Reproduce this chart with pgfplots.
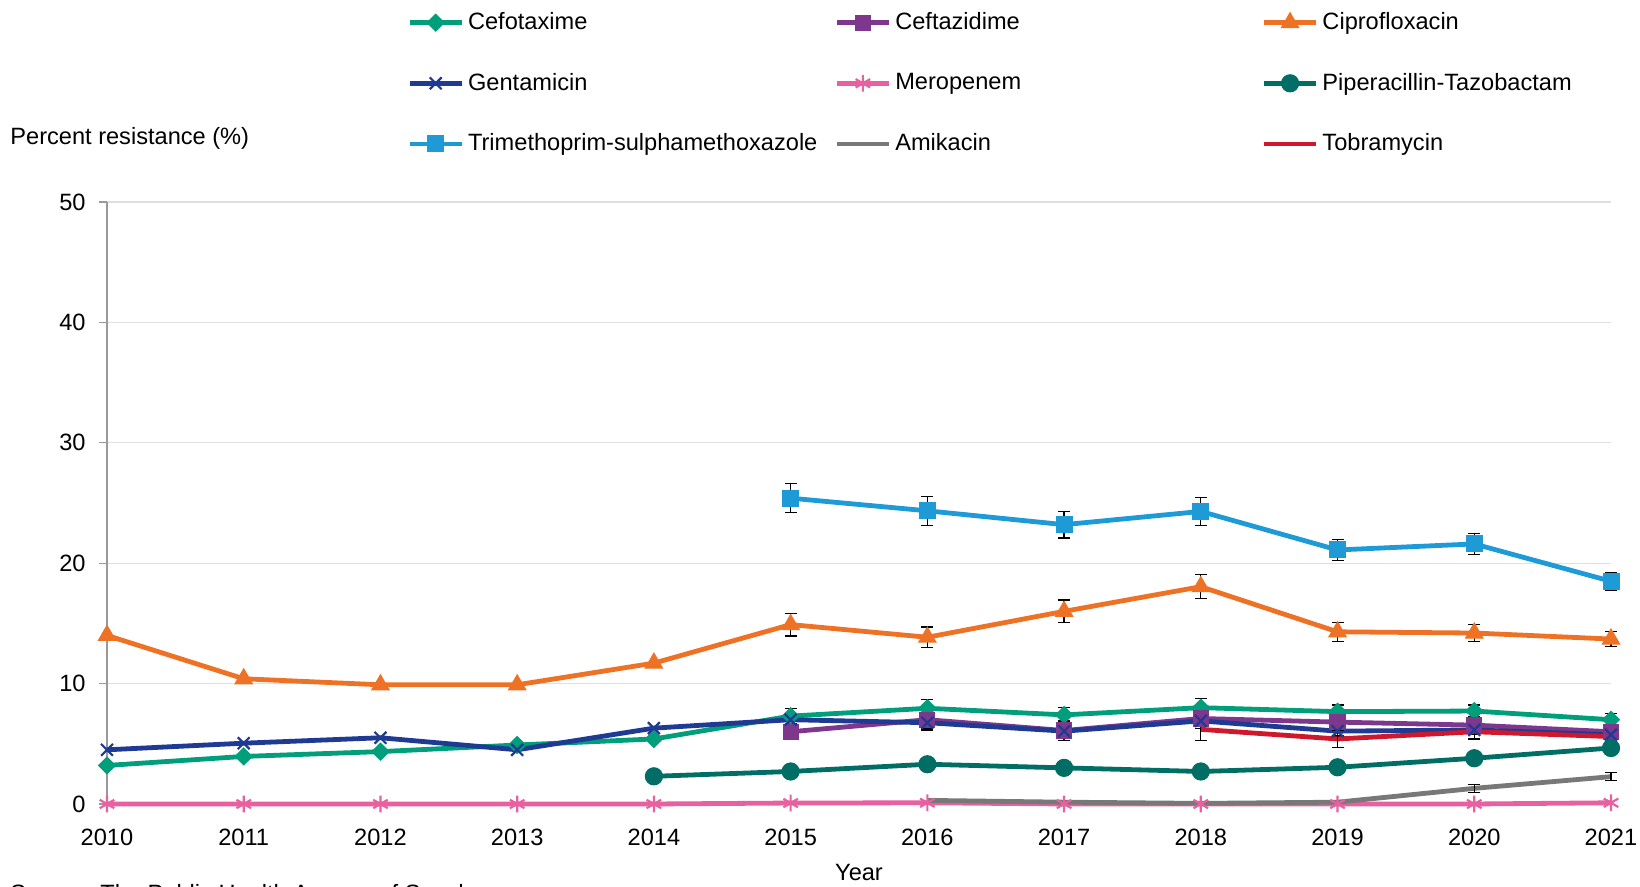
\documentclass[border=0pt]{standalone}
\usepackage{fontspec}
\setmainfont{Liberation Sans}
\usepackage{pgfplots}
\pgfplotsset{compat=1.18}
\definecolor{cefo}{RGB}{0,158,122}
\definecolor{ceft}{RGB}{125,55,140}
\definecolor{cipr}{RGB}{238,114,38}
\definecolor{gent}{RGB}{31,58,147}
\definecolor{mero}{RGB}{232,96,160}
\definecolor{pipt}{RGB}{0,110,100}
\definecolor{tmps}{RGB}{30,155,215}
\definecolor{amik}{RGB}{120,120,120}
\definecolor{tobr}{RGB}{208,24,44}
\pgfplotsset{
  ebar/.style={forget plot, draw=none, mark=none,
    error bars/.cd, y dir=both, y explicit,
    error bar style={draw=black, line width=0.6pt},
    error mark options={rotate=90, mark size=3pt, draw=black, line width=0.6pt}},
}
\newcommand{\lt}[1]{\makebox[181.2pt][l]{#1}}
\begin{document}
\fontsize{11.8}{14}\selectfont
\begin{tikzpicture}
\path[use as bounding box] (-53.5pt,-41.5pt) rectangle (766.5pt,402pt);
\begin{axis}[
  at={(0pt,0pt)}, anchor=south west,
  scale only axis, width=752pt, height=301pt,
  xmin=2010, xmax=2021, ymin=0, ymax=50,
  xtick={2010,2011,...,2021}, ytick={0,10,...,50},
  clip=false,
  axis x line*=bottom, axis y line*=left,
  x axis line style={draw=none},
  y axis line style={draw=gray!80, line width=0.6pt},
  ymajorgrids, grid style={gray!25, line width=0.6pt},
  tick align=outside, major tick length=4pt,
  xtick style={draw=none}, ytick style={draw=gray!80, line width=0.6pt},
  /pgf/number format/1000 sep={},
  /pgf/number format/assume math mode=true,
  yticklabel style={xshift=-2.6pt},
  xticklabel style={yshift=-4.3pt},
  legend columns=3,
  legend cell align=left,
  legend style={draw=none, fill=none, at={(0.1954,1.329)}, anchor=north west,
    row sep=16pt, column sep=0pt},
  legend image code/.code={\draw[mark repeat=2,mark phase=2,#1] plot coordinates {(0pt,0pt) (13pt,0pt) (26pt,0pt)};},
]
% Cefotaxime
\addplot[cefo, line width=2.4pt, mark=square*, mark size=3pt, mark options={solid, rotate=45, line width=0.5pt}]
 coordinates {(2010,3.2) (2011,3.95) (2012,4.35) (2013,4.9) (2014,5.4) (2015,7.3) (2016,7.95) (2017,7.4) (2018,8.0) (2019,7.67) (2020,7.72) (2021,7.0)};
\addlegendentry{\lt{Cefotaxime}}
\addplot[ebar] coordinates {(2015,7.3) +- (0,0.6) (2016,7.95) +- (0,0.7) (2017,7.4) +- (0,0.6) (2018,8.0) +- (0,0.75) (2019,7.67) +- (0,0.55) (2020,7.72) +- (0,0.5) (2021,7.0) +- (0,0.5)};
% Ceftazidime
\addplot[ceft, line width=2.4pt, mark=square*, mark size=3.8pt, mark options={solid, line width=0.5pt}]
 coordinates {(2015,6.0) (2016,7.0) (2017,6.1) (2018,7.1) (2019,6.8) (2020,6.55) (2021,6.0)};
\addlegendentry{\lt{Ceftazidime}}
\addplot[ebar] coordinates {(2015,6.0) +- (0,0.6) (2016,7.0) +- (0,0.85) (2017,6.1) +- (0,0.8) (2018,7.1) +- (0,0.8) (2019,6.8) +- (0,0.7) (2020,6.55) +- (0,0.7) (2021,6.0) +- (0,0.6)};
% Ciprofloxacin
\addplot[cipr, line width=2.4pt, mark=triangle*, mark size=5pt, mark options={solid, line width=0.5pt}]
 coordinates {(2010,14.0) (2011,10.4) (2012,9.9) (2013,9.9) (2014,11.7) (2015,14.9) (2016,13.85) (2017,16.0) (2018,18.05) (2019,14.3) (2020,14.2) (2021,13.7)};
\addlegendentry{Ciprofloxacin}
\addplot[ebar] coordinates {(2015,14.9) +- (0,0.95) (2016,13.85) +- (0,0.85) (2017,16.0) +- (0,0.95) (2018,18.05) +- (0,1.0) (2019,14.3) +- (0,0.8) (2020,14.2) +- (0,0.7) (2021,13.7) +- (0,0.6)};
% Gentamicin
\addplot[gent, line width=2.4pt, mark=x, mark size=4.2pt, mark options={solid, line width=1.1pt}]
 coordinates {(2010,4.5) (2011,5.05) (2012,5.5) (2013,4.5) (2014,6.3) (2015,7.0) (2016,6.75) (2017,6.05) (2018,6.9) (2019,6.05) (2020,6.15) (2021,5.75)};
\addlegendentry{\lt{Gentamicin}}
\addplot[ebar] coordinates {(2015,7.0) +- (0,0.4) (2016,6.75) +- (0,0.45) (2017,6.05) +- (0,0.4) (2018,6.9) +- (0,0.4) (2019,6.05) +- (0,0.4) (2020,6.15) +- (0,0.4) (2021,5.75) +- (0,0.4)};
% Meropenem
\addplot[mero, line width=2.4pt, mark=asterisk, mark size=4.2pt, mark options={solid, line width=1.1pt}]
 coordinates {(2010,0) (2011,0) (2012,0) (2013,0) (2014,0) (2015,0.08) (2016,0.1) (2017,0) (2018,0) (2019,0) (2020,0) (2021,0.1)};
\addlegendentry{\lt{Meropenem}}
% Piperacillin-Tazobactam
\addplot[pipt, line width=2.4pt, mark=*, mark size=4.3pt, mark options={solid, line width=0.5pt}]
 coordinates {(2014,2.3) (2015,2.7) (2016,3.3) (2017,3.0) (2018,2.7) (2019,3.05) (2020,3.8) (2021,4.65)};
\addlegendentry{Piperacillin-Tazobactam}
% Trimethoprim-sulphamethoxazole
\addplot[tmps, line width=2.4pt, mark=square*, mark size=4pt, mark options={solid, line width=0.5pt}]
 coordinates {(2015,25.4) (2016,24.35) (2017,23.2) (2018,24.3) (2019,21.1) (2020,21.6) (2021,18.5)};
\addlegendentry{\lt{Trimethoprim-sulphamethoxazole}}
\addplot[ebar] coordinates {(2015,25.4) +- (0,1.2) (2016,24.35) +- (0,1.2) (2017,23.2) +- (0,1.1) (2018,24.3) +- (0,1.15) (2019,21.1) +- (0,0.85) (2020,21.6) +- (0,0.85) (2021,18.5) +- (0,0.75)};
% Amikacin
\addplot[amik, line width=2.4pt, mark=none]
 coordinates {(2016,0.3) (2017,0.15) (2018,0.05) (2019,0.15) (2020,1.3) (2021,2.27)};
\addlegendentry{\lt{Amikacin}}
\addplot[ebar] coordinates {(2020,1.3) +- (0,0.35) (2021,2.27) +- (0,0.35)};
% Tobramycin
\addplot[tobr, line width=2.4pt, mark=none]
 coordinates {(2018,6.2) (2019,5.4) (2020,6.0) (2021,5.6)};
\addlegendentry{Tobramycin}
\addplot[ebar] coordinates {(2018,6.2) +- (0,0.9) (2019,5.4) +- (0,0.7) (2020,6.0) +- (0,0.6) (2021,5.6) +- (0,0.6)};
\end{axis}
\node[anchor=west, inner sep=0pt] at (-48.5pt,333pt) {Percent resistance (\%)};
\node at (376pt,-34.5pt) {Year};
\node[anchor=base west, inner sep=0pt] at (-48.5pt,-49pt) {Source: The Public Health Agency of Sweden};
\end{tikzpicture}
\end{document}
